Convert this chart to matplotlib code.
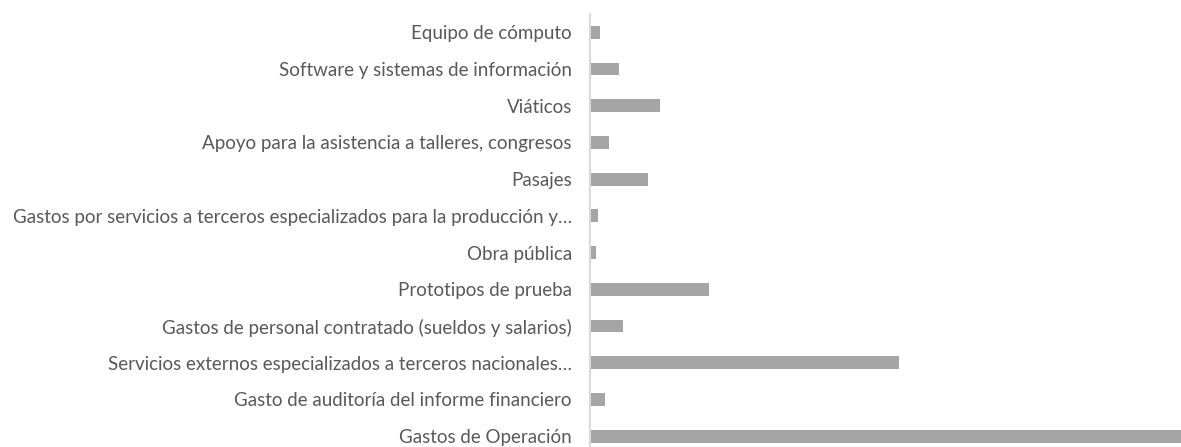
import matplotlib
matplotlib.use("Agg")
import matplotlib.pyplot as plt

plt.rcParams['font.family'] = ['Lato', 'DejaVu Sans']

categories = [
    "Equipo de cómputo",
    "Software y sistemas de información",
    "Viáticos",
    "Apoyo para la asistencia a talleres, congresos",
    "Pasajes",
    "Gastos por servicios a terceros especializados para la producción y…",
    "Obra pública",
    "Prototipos de prueba",
    "Gastos de personal contratado (sueldos y salarios)",
    "Servicios externos especializados a terceros nacionales…",
    "Gasto de auditoría del informe financiero",
    "Gastos de Operación",
]
values = [10, 29, 70, 19, 58, 8, 6, 119, 33, 308, 15, 590]

fig = plt.figure(figsize=(11.81, 4.47), dpi=100)
# axes spans past the bottom edge: the original is cropped there
ax = fig.add_axes([590 / 1181, -7.5 / 447, 591 / 1181, 440.5 / 447])

pos = list(range(len(categories)))
ax.barh(pos, values, height=0.35, color='#a5a5a5')
ax.set_yticks(pos)
ax.set_yticklabels(categories, fontsize=13.5, color='#595959')
ax.set_ylim(len(categories) - 0.5, -0.5)
ax.set_xlim(0, 590)

ax.tick_params(axis='y', length=0, pad=13)
ax.set_xticks([])
for s in ['top', 'right', 'bottom']:
    ax.spines[s].set_visible(False)
ax.spines['left'].set_color('#d9d9d9')
ax.spines['left'].set_linewidth(1.5)

fig.savefig('out.png', dpi=100)
